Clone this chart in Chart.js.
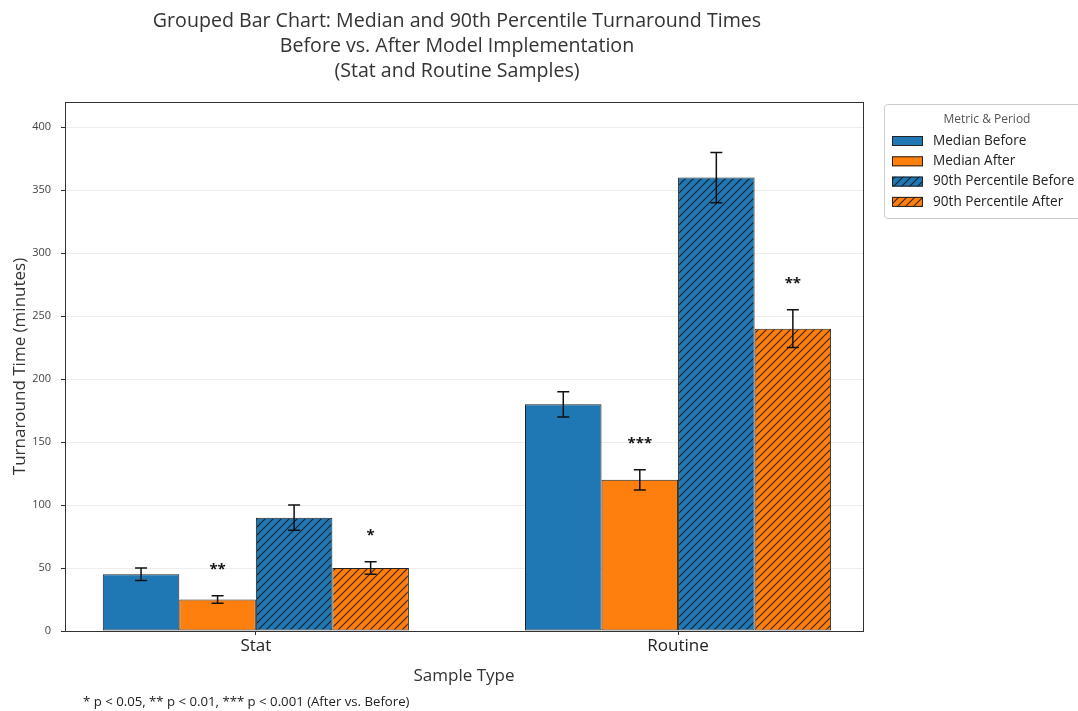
<!DOCTYPE html>
<html>
<head>
<meta charset="utf-8">
<script src="https://cdn.jsdelivr.net/npm/chart.js@4.4.1/dist/chart.umd.min.js"></script>
<style>
  html, body { margin: 0; padding: 0; background: #fff; }
  #wrap { width: 1078px; height: 711px; position: relative; }
</style>
</head>
<body>
<div id="wrap"><canvas id="tatChart" width="1078" height="711"></canvas></div>
<script>
// Data
const categories = ['Stat', 'Routine'];
const seriesNames = ['Median Before', 'Median After', '90th Percentile Before', '90th Percentile After'];
const medianBefore = [45, 180];
const medianAfter = [25, 120];
const p90Before = [90, 360];
const p90After = [50, 240];
const medianBeforeErr = [5, 10];
const medianAfterErr = [3, 8];
const p90BeforeErr = [10, 20];
const p90AfterErr = [5, 15];
const medianAfterStars = ['**', '***'];
const p90AfterStars = ['*', '**'];
const yTicks = [0, 50, 100, 150, 200, 250, 300, 350, 400];

const BLUE = '#1f77b4';
const ORANGE = '#ff7f0e';
const FONT = "'Open Sans', 'Noto Sans', sans-serif";

// diagonal "///" hatch over a solid colour
function makeHatch(color) {
    const c = document.createElement('canvas');
    c.width = 8; c.height = 8;
    const g = c.getContext('2d');
    g.fillStyle = color;
    g.fillRect(0, 0, 8, 8);
    g.strokeStyle = 'rgba(20,20,20,0.85)';
    g.lineWidth = 1.1;
    g.beginPath();
    g.moveTo(-1, 9); g.lineTo(9, -1);
    g.moveTo(-1, 1); g.lineTo(1, -1);
    g.moveTo(7, 9); g.lineTo(9, 7);
    g.stroke();
    return g.createPattern(c, 'repeat');
}

function points(values) {
    return values.map((v, i) => ({ x: i, y: v }));
}

const fills = [BLUE, ORANGE, makeHatch(BLUE), makeHatch(ORANGE)];
const errs = [medianBeforeErr, medianAfterErr, p90BeforeErr, p90AfterErr];
const stars = [null, medianAfterStars, null, p90AfterStars];

const ctx = document.getElementById('tatChart').getContext('2d');

// error bars, significance stars, frame, title, legend, footnote
const extras = {
    id: 'extras',
    afterDatasetsDraw(chart) {
        const c = chart.ctx;
        const y = chart.scales.y;
        chart.data.datasets.forEach((ds, di) => {
            const meta = chart.getDatasetMeta(di);
            meta.data.forEach((bar, i) => {
                const v = ds.data[i].y;
                const e = errs[di][i];
                const top = y.getPixelForValue(v + e);
                const bot = y.getPixelForValue(v - e);
                c.save();
                c.strokeStyle = '#111';
                c.lineWidth = 1.5;
                c.beginPath();
                c.moveTo(bar.x, top); c.lineTo(bar.x, bot);
                c.moveTo(bar.x - 6, top); c.lineTo(bar.x + 6, top);
                c.moveTo(bar.x - 6, bot); c.lineTo(bar.x + 6, bot);
                c.stroke();
                if (stars[di] && stars[di][i]) {
                    c.fillStyle = '#111';
                    c.font = 'bold 15px ' + FONT;
                    c.textAlign = 'center';
                    c.textBaseline = 'middle';
                    c.fillText(stars[di][i], bar.x, y.getPixelForValue(v + e + 21));
                }
                c.restore();
            });
        });
    },
    afterDraw(chart) {
        const c = chart.ctx;
        const a = chart.chartArea;
        c.save();
        // plot frame
        c.strokeStyle = '#333';
        c.lineWidth = 1;
        c.strokeRect(a.left + 0.5, a.top + 0.5, a.right - a.left, a.bottom - a.top);

        // title
        c.fillStyle = '#333';
        c.textAlign = 'center';
        c.textBaseline = 'middle';
        c.font = '19.6px ' + FONT;
        ['Grouped Bar Chart: Median and 90th Percentile Turnaround Times',
         'Before vs. After Model Implementation',
         '(Stat and Routine Samples)'].forEach((t, i) => c.fillText(t, 457, 21 + i * 25));

        // footnote
        c.textAlign = 'left';
        c.font = '13.2px ' + FONT;
        c.fillStyle = '#222';
        c.fillText('* p < 0.05, ** p < 0.01, *** p < 0.001 (After vs. Before)', 83, 702);

        // legend
        c.strokeStyle = '#cccccc';
        c.fillStyle = '#fff';
        c.beginPath();
        c.roundRect(884.5, 104.5, 210, 114, 3);
        c.fill();
        c.stroke();
        c.fillStyle = '#555';
        c.textAlign = 'center';
        c.font = '12px ' + FONT;
        c.fillText('Metric & Period', 987, 120);
        c.textAlign = 'left';
        c.font = '13.6px ' + FONT;
        seriesNames.forEach((name, i) => {
            const cy = 141 + i * 20.3;
            c.fillStyle = fills[i];
            c.fillRect(892, cy - 5, 31, 10);
            c.strokeStyle = '#222';
            c.strokeRect(892.5, cy - 4.5, 30, 9);
            c.fillStyle = '#222';
            c.fillText(name, 933, cy);
        });
        c.restore();
    }
};

const chart = new Chart(ctx, {
    type: 'bar',
    data: {
        datasets: seriesNames.map((name, i) => ({
            label: name,
            data: points([medianBefore, medianAfter, p90Before, p90After][i]),
            backgroundColor: fills[i],
            borderColor: '#222',
            borderWidth: 1,
            borderSkipped: false,
            categoryPercentage: 0.725,
            barPercentage: 1
        }))
    },
    options: {
        responsive: false,
        animation: false,
        layout: { padding: { left: 0, top: 102, right: 215, bottom: 0 } },
        plugins: {
            legend: { display: false },
            title: { display: false },
            tooltip: { enabled: false }
        },
        scales: {
            x: {
                type: 'linear',
                offset: false,
                min: -0.452,
                max: 1.438,
                afterBuildTicks: axis => { axis.ticks = categories.map((_, i) => ({ value: i })); },
                afterFit: axis => { axis.height = 80; },
                ticks: {
                    callback: v => categories[v],
                    color: '#222',
                    font: { family: FONT, size: 17 },
                    padding: 1,
                    maxRotation: 0
                },
                grid: { offset: false, drawOnChartArea: false, tickLength: 4, tickColor: '#333' },
                border: { color: '#333' },
                title: {
                    display: true,
                    text: 'Sample Type',
                    color: '#333',
                    font: { family: FONT, size: 17 },
                    padding: { top: 4, bottom: 25 }
                }
            },
            y: {
                min: 0,
                max: 420,
                afterBuildTicks: axis => { axis.ticks = yTicks.map(v => ({ value: v })); },
                afterFit: axis => { axis.width = 65; },
                ticks: {
                    color: '#444',
                    font: { family: FONT, size: 11 },
                    padding: 10
                },
                grid: { color: 'rgba(0,0,0,0.07)', tickLength: 4, tickColor: '#333' },
                border: { color: '#333' },
                title: {
                    display: true,
                    text: 'Turnaround Time (minutes)',
                    color: '#333',
                    font: { family: FONT, size: 17 },
                    padding: { top: 10, bottom: 4 }
                }
            }
        }
    },
    plugins: [extras]
});
</script>
</body>
</html>
